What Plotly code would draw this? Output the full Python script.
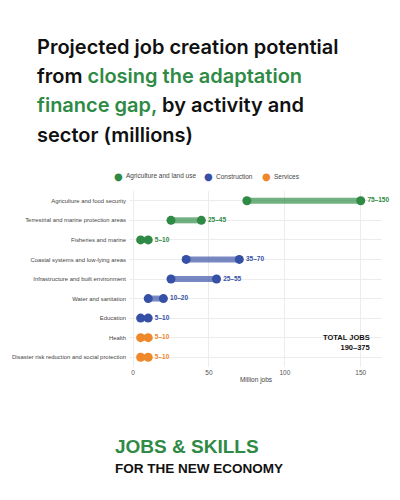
import plotly.graph_objects as go

categories = [
    "Agriculture and food security",
    "Terrestrial and marine protection areas",
    "Fisheries and marine",
    "Coastal systems and low-lying areas",
    "Infrastructure and built environment",
    "Water and sanitation",
    "Education",
    "Health",
    "Disaster risk reduction and social protection",
]
sectors = ["Agriculture and land use"] * 3 + ["Construction"] * 4 + ["Services"] * 2
low = [75, 25, 5, 35, 25, 10, 5, 5, 5]
high = [150, 45, 10, 70, 55, 20, 10, 10, 10]
x_ticks = [0, 50, 100, 150]
total_text = "TOTAL JOBS<br>190–375"

sector_order = ["Agriculture and land use", "Construction", "Services"]
dot_col = {"Agriculture and land use": "#2e8a45", "Construction": "#3650a6", "Services": "#ef882b"}
bar_col = {"Agriculture and land use": "rgba(46,138,69,0.68)",
           "Construction": "rgba(54,80,166,0.68)",
           "Services": "rgba(239,136,43,0.68)"}

NARROW = "Liberation Sans Narrow, Liberation Sans, Arial, sans-serif"

OFF = 8  # page body margin
W, H = 400 - 2 * OFF, 500 - 2 * OFF
# plot area in page pixels
PL, PR, PT, PB = 130, 382, 191, 367
L, R, T, B = PL - OFF, PR - OFF, PT - OFF, PB - OFF

def px(x):
    return (x - PL) / (PR - PL)

def py(y):
    return (PB - y) / (PB - PT)

fig = go.Figure()

for c, s, lo, hi in zip(categories, sectors, low, high):
    fig.add_trace(go.Scatter(
        x=[lo, hi], y=[c, c], mode="lines",
        line=dict(color=bar_col[s], width=6),
        showlegend=False, hoverinfo="skip"))

for s in sector_order:
    idx = [i for i, v in enumerate(sectors) if v == s]
    fig.add_trace(go.Scatter(
        x=[low[i] for i in idx], y=[categories[i] for i in idx], mode="markers",
        marker=dict(color=dot_col[s], size=9), showlegend=False, cliponaxis=False))
    fig.add_trace(go.Scatter(
        x=[high[i] for i in idx], y=[categories[i] for i in idx], mode="markers+text",
        marker=dict(color=dot_col[s], size=9),
        text=[f"{low[i]}–{high[i]}" for i in idx], textposition="middle right",
        textfont=dict(family=NARROW, size=6.5, color=dot_col[s], weight=600),
        showlegend=False, cliponaxis=False))

annotations = []
title_lines = [
    "Projected job creation potential",
    "from <span style='color:#2e8a45'>closing the adaptation</span>",
    "<span style='color:#2e8a45'>finance gap,</span> by activity and",
    "sector (millions)",
]
for i, t in enumerate(title_lines):
    annotations.append(dict(
        text=t, x=px(35), y=py(47 + i * 29.2), xref="paper", yref="paper",
        xanchor="left", yanchor="middle", showarrow=False,
        font=dict(family="Inter, Roboto, sans-serif", size=20, color="#111111", weight=600)))

leg_x = [118, 208, 266]
for s, x0 in zip(sector_order, leg_x):
    annotations.append(dict(
        text="●", x=px(x0), y=py(176), xref="paper", yref="paper",
        xanchor="center", yanchor="middle", showarrow=False,
        font=dict(family="DejaVu Sans, sans-serif", size=10, color=dot_col[s])))
    annotations.append(dict(
        text=s, x=px(x0 + 6), y=py(176), xref="paper", yref="paper",
        xanchor="left", yanchor="middle", showarrow=False,
        font=dict(family=NARROW, size=6.5, color="#444444")))

annotations.append(dict(
    text=f"<b>{total_text}</b>", x=px(372), y=py(342), xref="paper", yref="paper",
    xanchor="right", yanchor="middle", align="right", showarrow=False,
    font=dict(family=NARROW, size=7.5, color="#111111")))

annotations.append(dict(
    text="<b>JOBS & SKILLS</b>", x=px(113), y=py(446), xref="paper", yref="paper",
    xanchor="left", yanchor="middle", showarrow=False,
    font=dict(family=NARROW, size=19, color="#2e8a45")))
annotations.append(dict(
    text="<b>FOR THE NEW ECONOMY</b>", x=px(113), y=py(468), xref="paper", yref="paper",
    xanchor="left", yanchor="middle", showarrow=False,
    font=dict(family=NARROW, size=13.5, color="#111111")))

fig.update_layout(
    width=W, height=H,
    margin=dict(l=L, r=W - R, t=T, b=H - B, pad=0),
    paper_bgcolor="white", plot_bgcolor="white",
    showlegend=False,
    annotations=annotations,
    xaxis=dict(range=[-2, 164], tickvals=x_ticks, showgrid=True, gridcolor="#ececec",
               gridwidth=1, zeroline=False, showline=False, ticks="", automargin=False,
               tickfont=dict(family=NARROW, size=6.5, color="#555555"),
               title=dict(text="Million jobs", standoff=2,
                          font=dict(family=NARROW, size=6.5, color="#444444"))),
    yaxis=dict(categoryorder="array", categoryarray=categories, range=[8.5, -0.5],
               autorange=False,
               showgrid=True, gridcolor="#ececec", zeroline=False, showline=False,
               ticks="", ticklabelstandoff=3, automargin=False,
               tickfont=dict(family=NARROW, size=5.9, color="#444444")),
)

fig.write_html("out.html")
